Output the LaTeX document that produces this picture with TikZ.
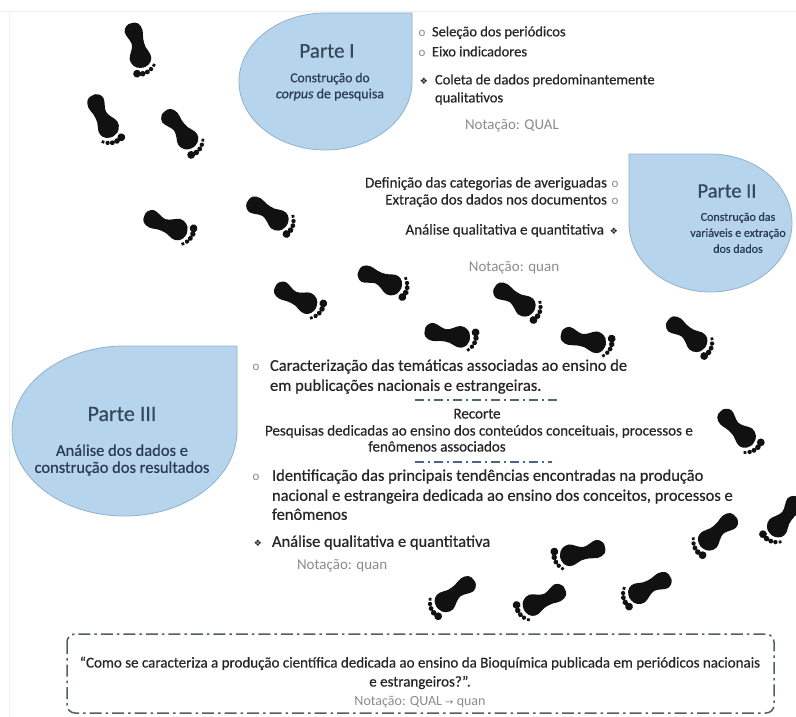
\documentclass[tikz,border=0pt]{standalone}
\usepackage{fontspec}
\setmainfont{Carlito}[FakeBold=0.5]
\newfontfamily\lightfont{Carlito}
\newfontfamily\symfont{DejaVu Sans}
\definecolor{partblue}{HTML}{B6D4EC}
\definecolor{partedge}{HTML}{8FB2D0}
\definecolor{titleink}{HTML}{34485A}
\definecolor{subink}{HTML}{2A3C52}
\definecolor{bodyink}{HTML}{262626}
\definecolor{noteink}{HTML}{8C8C8C}
\definecolor{cutink}{HTML}{4A6682}
\definecolor{boxink}{HTML}{525E6B}
\definecolor{footink}{HTML}{111111}
\definecolor{frameink}{HTML}{F0F0F0}
\tikzset{
  foot/.pic={
    % sole: heel, narrow arch, wide ball
    \fill[footink] plot[smooth cycle, tension=0.75] coordinates {
      (-24,0) (-22.5,-5.5) (-16,-8) (-9,-6.8) (-1,-7) (6,-9.5) (12,-8.5)
      (15.5,-3.5) (15.5,2) (12.5,7) (6,9) (0,6.2) (-6,4) (-12,5.8) (-18,7.5) (-22.8,4.5)};
    % toes
    \fill[footink] (19.8,5.8) circle[radius=3.4]
                   (21,1) circle[radius=2.4]
                   (20.5,-3.3) circle[radius=2.1]
                   (18.8,-7) circle[radius=1.9]
                   (16.2,-10.2) circle[radius=1.7];
  }
}
\begin{document}
\begin{tikzpicture}[x=1pt,y=-1pt,
  every node/.style={inner sep=0pt, outer sep=0pt},
  % text sizes
  sA/.style={font=\fontsize{14.5}{17}\selectfont, text height=10.3pt, text depth=3.5pt},
  sB/.style={font=\fontsize{15}{17}\selectfont, text height=10.6pt, text depth=3.6pt},
  sC/.style={font=\fontsize{16.5}{19}\selectfont, text height=11.7pt, text depth=4pt},
  sD/.style={font=\fontsize{12}{14}\selectfont, text height=8.5pt, text depth=2.9pt},
  txt/.style={text=bodyink},
  note/.style={font=\lightfont\fontsize{15}{17}\selectfont, text=noteink, text height=10.6pt, text depth=3.6pt},
  ttl/.style={text=titleink},
  sub/.style={text=subink},
  bul/.style={font=\lightfont\fontsize{13}{14}\selectfont, text=noteink},
  dia/.style={font=\symfont\fontsize{9}{10}\selectfont, text=bodyink},
  part/.style={fill=partblue, draw=partedge, line width=0.8pt},
  cut/.style={draw=cutink, line width=1.6pt, dash pattern=on 9pt off 4pt on 2pt off 4pt},
  boxline/.style={draw=boxink, line width=1.5pt, dash pattern=on 12pt off 4pt on 2.5pt off 4pt, rounded corners=8pt},
  stepfoot/.style={scale=1.15}
]
\useasboundingbox (0,0) rectangle (796,717);
\fill[white] (0,0) rectangle (796,717);
% faint frame along the top and left
\draw[frameink, line width=1pt] (0,12) -- (796,12);
\draw[frameink, line width=1pt] (9,12) -- (9,717);

% ---------- the three parts ----------
\path[part] (412,13) -- (412,81.5)
  arc[start angle=0, end angle=270, x radius=86.5, y radius=68.5] -- cycle;
\path[part] (629,154) -- (710.5,154)
  arc[start angle=-90, end angle=180, x radius=81.5, y radius=69] -- cycle;
\path[part] (237,346) -- (237,431)
  arc[start angle=0, end angle=270, x radius=112.5, y radius=85] -- cycle;

\node[ttl, font=\fontsize{21}{24}\selectfont] (p1title) at (327,51) {Parte I};
\node[sub, font=\fontsize{13.5}{15}\selectfont, text height=9.6pt, text depth=3.2pt] (p1sa) at (330,79) {Construção do};
\node[sub, font=\fontsize{14}{15}\selectfont, text height=9.9pt, text depth=3.3pt] (p1sb) at (330,95) {\textit{corpus} de pesquisa};

\node[ttl, font=\fontsize{20.5}{24}\selectfont] (p2title) at (727,191) {Parte II};
\node[sub, sD] (p2sa) at (738,218) {Construção das};
\node[sub, sD] (p2sb) at (738,234) {variáveis e extração};
\node[sub, sD] (p2sc) at (738,250) {dos dados};

\node[ttl, font=\fontsize{22}{26}\selectfont] (p3title) at (122,414) {Parte III};
\node[sub, sC] (p3sa) at (122,452) {Análise dos dados e};
\node[sub, sC] (p3sb) at (122,469) {construção dos resultados};

% ---------- part I items ----------
\node[bul] (p1o1) at (422,33) {o};
\node[txt,sA,anchor=west] (p1t1) at (432,33) {Seleção dos periódicos};
\node[bul] (p1o2) at (422,53) {o};
\node[txt,sA,anchor=west] (p1t2) at (432,53) {Eixo indicadores};
\node[dia] (p1d) at (424,81) {❖};
\node[txt,sA,anchor=west] (p1t3) at (435,81) {Coleta de dados predominantemente};
\node[txt,sA,anchor=west] (p1t4) at (435,99) {qualitativos};
\node[note,anchor=west] (p1n) at (465,126) {Notação: QUAL};

% ---------- part II items ----------
\node[txt,sB,anchor=east] (p2t1) at (607,184) {Definição das categorias de averiguadas};
\node[bul] (p2o1) at (615,184) {o};
\node[txt,sB,anchor=east] (p2t2) at (607,201) {Extração dos dados nos documentos};
\node[bul] (p2o2) at (615,201) {o};
\node[txt,sB,anchor=east] (p2t3) at (604,231) {Análise qualitativa e quantitativa};
\node[dia] (p2d) at (614,231) {❖};
\node[note] (p2n) at (514,268) {Notação: quan};

% ---------- part III items ----------
\node[bul] (p3o1) at (256,367) {o};
\node[txt,sC,anchor=west] (p3t1) at (270,367) {Caracterização das temáticas associadas ao ensino de};
\node[txt,sC,anchor=west] (p3t2) at (270,387) {em publicações nacionais e estrangeiras.};
\coordinate (cutAa) at (415,400);
\coordinate (cutAb) at (558,400);
\draw[cut] (cutAa) -- (cutAb);
\node[txt,sB] (rec) at (477,415) {Recorte};
\node[txt,sB,anchor=west] (rec1) at (265,432) {Pesquisas dedicadas ao ensino dos conteúdos conceituais, processos e};
\node[txt,sB] (rec2) at (437,448) {fenômenos associados};
\coordinate (cutBa) at (415,462);
\coordinate (cutBb) at (552,462);
\draw[cut] (cutBa) -- (cutBb);
\node[bul] (p3o2) at (256,477) {o};
\node[txt,sC,anchor=west] (p3t3) at (272,477) {Identificação das principais tendências encontradas na produção};
\node[txt,sC,anchor=west] (p3t4) at (272,497) {nacional e estrangeira dedicada ao ensino dos conceitos, processos e};
\node[txt,sC,anchor=west] (p3t5) at (272,516) {fenômenos};
\node[dia] (p3d) at (258,543) {❖};
\node[txt,sC,anchor=west] (p3t6) at (272,543) {Análise qualitativa e quantitativa};
\node[note,anchor=west] (p3n) at (297,566) {Notação: quan};

% ---------- research question ----------
\draw[boxline] (67,634) rectangle (774,713);
\node[txt,sB] (q1) at (420,664) {“Como se caracteriza a produção científica dedicada ao ensino da Bioquímica publicada em periódicos nacionais};
\node[txt,sB] (q2) at (420,683) {e estrangeiros?”.};
\node[note, font=\lightfont\fontsize{14}{16}\selectfont] (qn) at (420,702) {Notação: QUAL {\symfont\fontsize{10}{12}\selectfont →} quan};

% ---------- footprints ----------
\pic[rotate=-76, stepfoot] at (138,50) {foot};
\pic[rotate=-63, yscale=-1, stepfoot] at (105,120) {foot};
\pic[rotate=-51, stepfoot] at (182,133) {foot};
\pic[rotate=-22, yscale=-1, stepfoot] at (170,226) {foot};
\pic[rotate=-33, stepfoot] at (271,216) {foot};
\pic[rotate=-27, yscale=-1, stepfoot] at (300,299) {foot};
\pic[rotate=-23, stepfoot] at (384,282) {foot};
\pic[rotate=-10, yscale=-1, stepfoot] at (452,335) {foot};
\pic[rotate=-33, stepfoot] at (518,302) {foot};
\pic[rotate=-13, yscale=-1, stepfoot] at (588,340) {foot};
\pic[rotate=-37, stepfoot] at (690,337) {foot};
\pic[rotate=-45, yscale=-1, stepfoot] at (740,431) {foot};
\pic[rotate=-138, yscale=-1, stepfoot] at (715,535) {foot};
\pic[rotate=-127, stepfoot] at (782,520) {foot};
\pic[rotate=-167, stepfoot] at (578,553) {foot};
\pic[rotate=-142, yscale=-1, stepfoot] at (452,597) {foot};
\pic[rotate=-154, stepfoot] at (540,601) {foot};
\pic[rotate=-152, yscale=-1, stepfoot] at (646,590) {foot};
\end{tikzpicture}
\end{document}
